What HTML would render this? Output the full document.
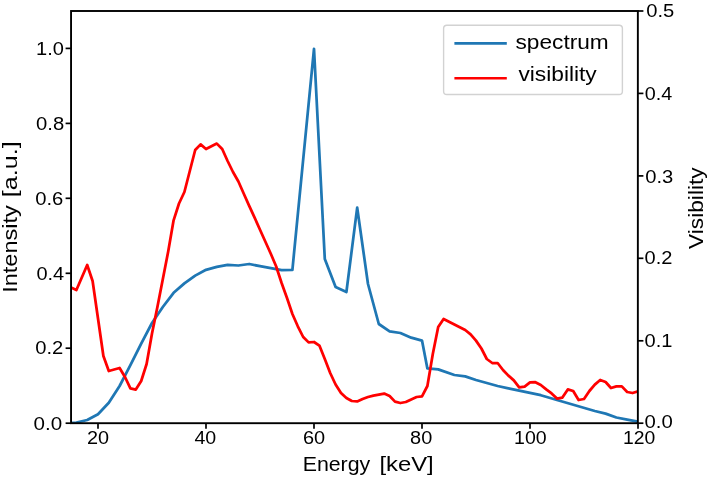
<!DOCTYPE html>
<html><head><meta charset="utf-8"><title>spectrum / visibility</title>
<style>
html,body{margin:0;padding:0;background:#fff;}
body{width:710px;height:477px;overflow:hidden;font-family:"Liberation Sans",sans-serif;}
svg{display:block;will-change:transform;}
text{font-family:"Liberation Sans",sans-serif;fill:#000;}
.tk{font-size:18.3px;}
.lb{font-size:20px;}
</style></head><body>
<svg width="710" height="477" viewBox="0 0 710 477">
<rect x="0" y="0" width="710" height="477" fill="#ffffff"/>
<defs><clipPath id="ax"><rect x="71" y="11" width="567" height="412"/></clipPath></defs>
<g clip-path="url(#ax)" fill="none" stroke-linejoin="round" stroke-linecap="butt" stroke-width="2.75">
<polyline stroke="#1f77b4" points="71.0,423.0 76.4,422.5 87.2,420.0 98.0,414.2 108.8,402.8 119.6,386.0 130.4,365.2 141.2,343.6 152.0,323.0 162.8,307.0 173.6,292.8 184.4,283.4 195.2,275.6 206.0,269.8 216.8,266.9 227.6,264.9 238.4,265.5 249.2,264.0 260.0,266.2 270.8,268.2 281.6,270.1 292.4,269.8 314.0,48.8 324.8,259.0 335.6,287.0 346.4,292.0 357.2,207.7 368.0,284.0 378.8,324.0 389.6,331.4 400.4,333.0 411.2,337.7 422.0,340.6 427.4,368.4 438.2,369.4 454.4,375.0 465.2,376.4 476.0,380.0 497.6,386.0 508.4,388.3 540.8,395.2 557.0,400.0 594.8,411.0 605.6,413.6 616.4,417.5 627.2,419.6 638.0,421.6"/>
<polyline stroke="#ff0000" points="71.0,287.6 76.4,290.0 87.2,265.0 92.6,281.0 98.0,318.5 103.4,356.0 108.8,371.0 114.2,369.5 119.6,368.0 125.0,377.0 130.4,388.4 135.8,389.6 141.2,381.0 146.6,364.0 152.0,333.6 157.4,307.0 162.8,279.2 168.2,251.5 173.6,220.3 179.0,203.5 184.4,192.0 189.8,171.0 195.2,150.0 200.6,144.4 206.0,149.0 211.4,146.3 216.8,143.6 222.2,149.0 227.6,161.0 233.0,172.0 238.4,181.5 243.8,193.7 249.2,205.9 254.6,217.6 260.0,229.7 265.4,241.7 270.8,253.8 276.2,266.5 281.6,283.0 287.0,298.0 292.4,314.0 297.8,326.3 303.2,337.0 308.6,342.4 314.0,342.0 319.4,345.6 324.8,359.0 330.2,373.0 335.6,384.5 341.0,393.0 346.4,398.0 351.8,401.0 357.2,401.4 362.6,399.0 368.0,397.0 373.4,395.6 378.8,394.6 384.2,393.6 389.6,396.0 395.0,401.6 400.4,403.0 405.8,402.0 411.2,399.4 416.6,397.0 422.0,396.4 427.4,386.0 432.8,354.0 438.2,327.0 443.6,319.0 449.0,321.7 454.4,324.4 459.8,327.2 465.2,330.0 470.6,334.3 476.0,340.6 481.4,348.5 486.8,359.0 492.2,363.0 497.6,363.0 503.0,370.0 508.4,375.6 513.8,380.4 519.2,387.4 524.6,386.6 530.0,382.4 535.4,382.2 540.8,385.0 546.2,389.4 551.6,393.4 557.0,398.6 562.4,397.6 567.8,389.4 573.2,391.0 578.6,400.0 584.0,399.0 589.4,391.0 594.8,384.6 600.2,380.0 605.6,382.0 611.0,388.0 616.4,386.4 621.8,386.4 627.2,392.0 632.6,393.0 638.0,391.4"/>
</g>
<g stroke="#000" stroke-width="1.7"><line x1="98" y1="423" x2="98" y2="428.7"/><line x1="206" y1="423" x2="206" y2="428.7"/><line x1="314" y1="423" x2="314" y2="428.7"/><line x1="422" y1="423" x2="422" y2="428.7"/><line x1="530" y1="423" x2="530" y2="428.7"/><line x1="638" y1="423" x2="638" y2="428.7"/><line x1="71" y1="423.2" x2="65.6" y2="423.2"/><line x1="71" y1="348.2" x2="65.6" y2="348.2"/><line x1="71" y1="273.3" x2="65.6" y2="273.3"/><line x1="71" y1="198.3" x2="65.6" y2="198.3"/><line x1="71" y1="123.4" x2="65.6" y2="123.4"/><line x1="71" y1="48.4" x2="65.6" y2="48.4"/><line x1="638" y1="423.2" x2="643.4" y2="423.2"/><line x1="638" y1="340.8" x2="643.4" y2="340.8"/><line x1="638" y1="258.3" x2="643.4" y2="258.3"/><line x1="638" y1="175.9" x2="643.4" y2="175.9"/><line x1="638" y1="93.4" x2="643.4" y2="93.4"/><line x1="638" y1="11.0" x2="643.4" y2="11.0"/></g>
<rect x="71.05" y="11.0" width="566.80" height="412.20" fill="none" stroke="#000" stroke-width="1.9" stroke-linejoin="miter"/>
<text font-size="18.3" x="87.07" y="444.05" textLength="22.09" lengthAdjust="spacingAndGlyphs">20</text>
<text font-size="18.3" x="194.43" y="444.05" textLength="21.82" lengthAdjust="spacingAndGlyphs">40</text>
<text font-size="18.3" x="302.90" y="444.05" textLength="22.22" lengthAdjust="spacingAndGlyphs">60</text>
<text font-size="18.3" x="410.09" y="444.05" textLength="22.17" lengthAdjust="spacingAndGlyphs">80</text>
<text font-size="18.3" x="514.04" y="444.05" textLength="32.61" lengthAdjust="spacingAndGlyphs">100</text>
<text font-size="18.3" x="623.09" y="444.05" textLength="32.30" lengthAdjust="spacingAndGlyphs">120</text>
<text font-size="18.3" x="33.55" y="430.20" textLength="28.61" lengthAdjust="spacingAndGlyphs">0.0</text>
<text font-size="18.3" x="35.20" y="354.25" textLength="28.07" lengthAdjust="spacingAndGlyphs">0.2</text>
<text font-size="18.3" x="36.41" y="280.35" textLength="27.77" lengthAdjust="spacingAndGlyphs">0.4</text>
<text font-size="18.3" x="35.20" y="204.55" textLength="28.16" lengthAdjust="spacingAndGlyphs">0.6</text>
<text font-size="18.3" x="36.11" y="129.75" textLength="28.14" lengthAdjust="spacingAndGlyphs">0.8</text>
<text font-size="18.3" x="36.01" y="55.15" textLength="27.86" lengthAdjust="spacingAndGlyphs">1.0</text>
<text font-size="18.3" x="644.55" y="428.40" textLength="28.25" lengthAdjust="spacingAndGlyphs">0.0</text>
<text font-size="18.3" x="644.56" y="347.45" textLength="27.86" lengthAdjust="spacingAndGlyphs">0.1</text>
<text font-size="18.3" x="644.56" y="264.35" textLength="27.86" lengthAdjust="spacingAndGlyphs">0.2</text>
<text font-size="18.3" x="645.20" y="182.55" textLength="28.05" lengthAdjust="spacingAndGlyphs">0.3</text>
<text font-size="18.3" x="644.87" y="99.75" textLength="27.51" lengthAdjust="spacingAndGlyphs">0.4</text>
<text font-size="18.3" x="646.20" y="17.40" textLength="28.05" lengthAdjust="spacingAndGlyphs">0.5</text>
<text font-size="20.0" x="302.70" y="470.80" textLength="67.56" lengthAdjust="spacingAndGlyphs">Energy</text>
<text font-size="20.0" x="379.44" y="470.80" textLength="54.28" lengthAdjust="spacingAndGlyphs">[keV]</text>
<text font-size="20.0" transform="translate(17.30,292.81) rotate(-90)" textLength="87.62" lengthAdjust="spacingAndGlyphs">Intensity</text>
<text font-size="20.0" transform="translate(17.30,197.37) rotate(-90)" textLength="56.09" lengthAdjust="spacingAndGlyphs">[a.u.]</text>
<text font-size="20.0" transform="translate(702.80,248.90) rotate(-90)" textLength="81.55" lengthAdjust="spacingAndGlyphs">Visibility</text>
<rect x="443.6" y="25.2" width="178.8" height="69.3" rx="3.3" ry="3.3" fill="#fff" fill-opacity="0.8" stroke="#d2d2d2" stroke-width="1.4"/>
<line x1="454.4" y1="43.35" x2="506.8" y2="43.35" stroke="#1f77b4" stroke-width="2.6"/>
<line x1="454.4" y1="78.2" x2="506.8" y2="78.2" stroke="#ff0000" stroke-width="2.6"/>
<text font-size="19.6" x="515.54" y="48.50" textLength="93.20" lengthAdjust="spacingAndGlyphs">spectrum</text>
<text font-size="19.6" x="518.40" y="80.60" textLength="78.35" lengthAdjust="spacingAndGlyphs">visibility</text>
</svg>
</body></html>
